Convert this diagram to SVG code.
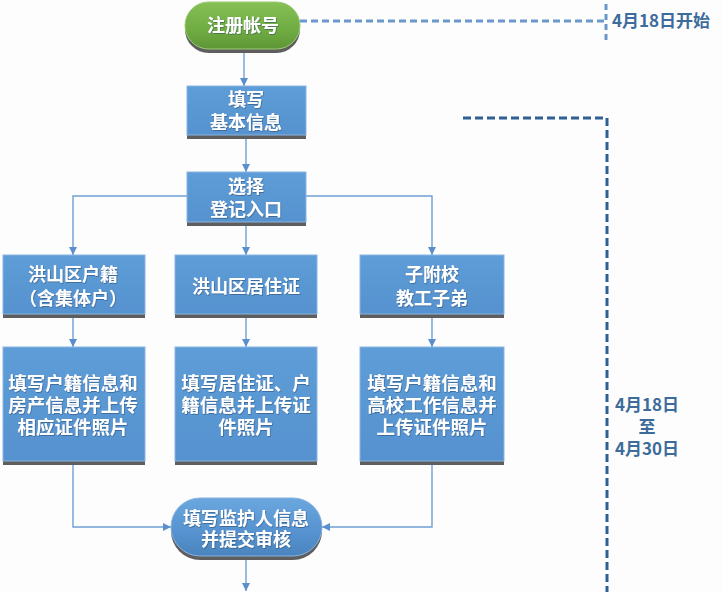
<svg xmlns="http://www.w3.org/2000/svg" width="723" height="592" viewBox="0 0 723 592">
<defs>
<style>
.lbl{font-family:"Noto Sans CJK SC","Noto Sans",sans-serif;font-weight:bold;font-size:18px;fill:#ffffff;text-anchor:middle;dominant-baseline:central;filter:url(#ts)}
.big{font-size:18.5px}
.date{font-family:"Noto Sans CJK SC","Noto Sans",sans-serif;font-weight:bold;font-size:17px;fill:#3D6B9B}
.edge{fill:none;stroke:#6F9FD3;stroke-width:1.4}
.shadow{fill:#5E5E5E}
.box{fill:url(#gb);stroke:#8AB6E2;stroke-width:1}
</style>
<linearGradient id="gb" x1="0" y1="0" x2="0" y2="1">
<stop offset="0" stop-color="#5E9DD8"/>
<stop offset="1" stop-color="#5592CF"/>
</linearGradient>
<linearGradient id="gg" x1="0" y1="0" x2="0" y2="1">
<stop offset="0" stop-color="#86C057"/>
<stop offset="0.6" stop-color="#6FAC42"/>
<stop offset="1" stop-color="#5E9636"/>
</linearGradient>
<linearGradient id="gp" x1="0" y1="0" x2="0" y2="1">
<stop offset="0" stop-color="#6BA7DE"/>
<stop offset="0.6" stop-color="#5592CF"/>
<stop offset="1" stop-color="#4A84BE"/>
</linearGradient>
<filter id="ts" x="-10%" y="-30%" width="120%" height="160%">
<feDropShadow dx="0.6" dy="0.8" stdDeviation="0.5" flood-color="#1F3E60" flood-opacity="0.6"/>
</filter>
<marker id="ah" viewBox="0 0 10 10" refX="10" refY="5" markerWidth="8" markerHeight="8" markerUnits="userSpaceOnUse" orient="auto">
<path d="M0,0 L10,5 L0,10 Z" fill="#5B8FCB"/>
</marker>
</defs>
<rect x="0" y="0" width="723" height="592" fill="#FDFDFD"/>

<g id="timeline">
<path d="M300,21 H604" fill="none" stroke="#6A98CB" stroke-width="3" stroke-dasharray="7,4"/>
<path d="M606,4 V43" fill="none" stroke="#6A98CB" stroke-width="3" stroke-dasharray="6,4"/>
<text class="date" x="612" y="27">4月18日开始</text>
<path d="M463,118 H607 V592" fill="none" stroke="#2F5F93" stroke-width="3" stroke-dasharray="8,4"/>
<text class="date" text-anchor="middle"><tspan x="647" y="411">4月18日</tspan><tspan x="647" y="433">至</tspan><tspan x="647" y="455">4月30日</tspan></text>
</g>

<g id="connectors">
<path class="edge" d="M244,52 V86" marker-end="url(#ah)"/>
<path class="edge" d="M246,139 V172" marker-end="url(#ah)"/>
<path class="edge" d="M246,226 V255" marker-end="url(#ah)"/>
<path class="edge" d="M187,196 H73 V255" marker-end="url(#ah)"/>
<path class="edge" d="M306,196 H432 V255" marker-end="url(#ah)"/>
<path class="edge" d="M73,318 V347" marker-end="url(#ah)"/>
<path class="edge" d="M246,318 V347" marker-end="url(#ah)"/>
<path class="edge" d="M432,318 V347" marker-end="url(#ah)"/>
<path class="edge" d="M73,465 V527 H171" marker-end="url(#ah)"/>
<path class="edge" d="M432,465 V527 H322" marker-end="url(#ah)"/>
<path class="edge" d="M246,560 V591" marker-end="url(#ah)"/>
</g>

<g id="n-register">
<rect x="185" y="6" width="115" height="47" rx="23.5" class="shadow"/>
<rect x="185" y="2" width="115" height="47" rx="23.5" fill="url(#gg)" stroke="#9CCB78" stroke-width="1"/>
<text class="lbl" x="243" y="24">注册帐号</text>
</g>

<g id="n-basic">
<rect x="187" y="86" width="119" height="53" class="shadow"/>
<rect x="187" y="86" width="119" height="49" class="box"/>
<text class="lbl"><tspan x="246" y="98">填写</tspan><tspan x="246" y="121">基本信息</tspan></text>
</g>

<g id="n-entry">
<rect x="187" y="172" width="119" height="54" class="shadow"/>
<rect x="187" y="172" width="119" height="50" class="box"/>
<text class="lbl"><tspan x="246" y="185">选择</tspan><tspan x="246" y="208">登记入口</tspan></text>
</g>

<g id="n-hukou">
<rect x="3" y="255" width="142" height="63" class="shadow"/>
<rect x="3" y="255" width="142" height="59" class="box"/>
<text class="lbl"><tspan x="73" y="273">洪山区户籍</tspan><tspan x="73" y="297">（含集体户）</tspan></text>
</g>

<g id="n-juzhu">
<rect x="175" y="255" width="142" height="63" class="shadow"/>
<rect x="175" y="255" width="142" height="59" class="box"/>
<text class="lbl" x="246" y="285">洪山区居住证</text>
</g>

<g id="n-school">
<rect x="360" y="255" width="144" height="63" class="shadow"/>
<rect x="360" y="255" width="144" height="59" class="box"/>
<text class="lbl"><tspan x="432" y="273">子附校</tspan><tspan x="432" y="297">教工子弟</tspan></text>
</g>

<g id="n-fill1">
<rect x="3" y="347" width="142" height="118" class="shadow"/>
<rect x="3" y="347" width="142" height="114" class="box"/>
<text class="lbl big"><tspan x="73" y="382">填写户籍信息和</tspan><tspan x="73" y="404">房产信息并上传</tspan><tspan x="73" y="426">相应证件照片</tspan></text>
</g>

<g id="n-fill2">
<rect x="175" y="347" width="142" height="118" class="shadow"/>
<rect x="175" y="347" width="142" height="114" class="box"/>
<text class="lbl big"><tspan x="246" y="382">填写居住证、户</tspan><tspan x="246" y="404">籍信息并上传证</tspan><tspan x="246" y="426">件照片</tspan></text>
</g>

<g id="n-fill3">
<rect x="360" y="347" width="144" height="118" class="shadow"/>
<rect x="360" y="347" width="144" height="114" class="box"/>
<text class="lbl big"><tspan x="432" y="382">填写户籍信息和</tspan><tspan x="432" y="404">高校工作信息并</tspan><tspan x="432" y="426">上传证件照片</tspan></text>
</g>

<g id="n-guardian">
<rect x="171" y="502" width="151" height="58" rx="29" class="shadow"/>
<rect x="171" y="498" width="151" height="58" rx="29" fill="url(#gp)" stroke="#86B3E0" stroke-width="1"/>
<text class="lbl"><tspan x="246" y="517">填写监护人信息</tspan><tspan x="246" y="538">并提交审核</tspan></text>
</g>
</svg>
